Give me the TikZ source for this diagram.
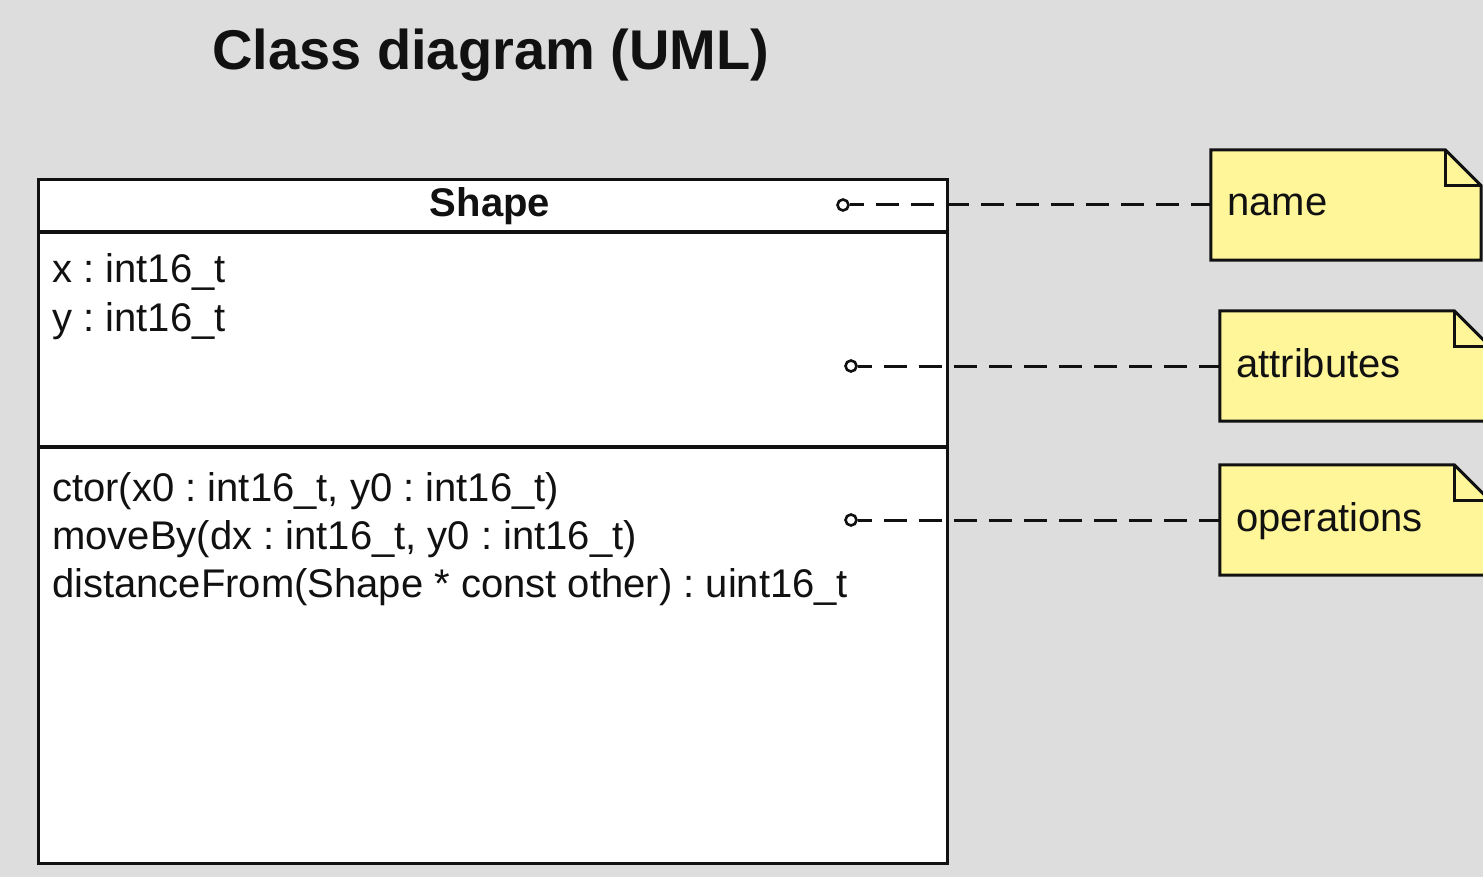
\documentclass[tikz,border=0pt]{standalone}
\usepackage{fontspec}
\setmainfont{Liberation Sans}
\usetikzlibrary{calc}
\definecolor{bg}{RGB}{221,221,221}
\definecolor{noteyellow}{RGB}{255,246,153}
\definecolor{ink}{RGB}{17,17,17}
\frenchspacing
\begin{document}
\begin{tikzpicture}[x=1pt,y=-1pt,
  txt/.style={anchor=base west, inner sep=0pt, text=ink, font=\frenchspacing\fontsize{40}{48}\selectfont},
  boldtxt/.style={inner sep=0pt, text=ink, font=\bfseries\fontsize{40}{48}\selectfont},
  classbox/.style={draw=ink, line width=3.2pt, fill=white, inner sep=0pt, anchor=north west},
  notebox/.style={minimum width=270pt, minimum height=110pt, inner sep=0pt},
  noteshape/.style={draw=ink, fill=noteyellow, line width=3pt, line join=miter},
  noteline/.style={draw=ink, line width=3pt, line join=miter},
  port/.style={circle, draw=ink, line width=2.6pt, fill=white, minimum size=11pt, inner sep=0pt},
  conn/.style={draw=ink, line width=3pt, dash pattern=on 23pt off 12pt, dash phase=9pt}]
\fill[bg] (0,0) rectangle (1483,877);
\useasboundingbox (0,0) rectangle (1483,877);
\clip (0,0) rectangle (1483,877);

% title
\node[anchor=base west, inner sep=0pt, text=ink, font=\bfseries\fontsize{56}{60}\selectfont] (title) at (212,70) {Class diagram (UML)};

% class box
\node[classbox, minimum width=909pt, minimum height=684pt] (cls) at (37,178) {};
\draw[line width=3.2pt, draw=ink] ($(cls.north west)+(0,54)$) coordinate (d1l) -- ($(cls.north east)+(0,54)$) coordinate (d1r);
\draw[line width=3.2pt, draw=ink] ($(cls.north west)+(0,269)$) coordinate (d2l) -- ($(cls.north east)+(0,269)$) coordinate (d2r);

\node[boldtxt, anchor=base] (cname) at (490,217) {Shape};
\node[txt] (a1) at (52,283) {x : int16\_t};
\node[txt] (a2) at (52,331) {y : int16\_t};
\node[txt] (o1) at (52,501) {ctor(x0 : int16\_t, y0 : int16\_t)};
\node[txt] (o2) at (52,549) {moveBy(dx : int16\_t, y0 : int16\_t)};
\node[txt] (o3) at (52,597) {distanceFrom(Shape * const other) : uint16\_t};

% notes
\node[notebox] (nname) at (1346,205) {};
\node[notebox] (nattr) at (1355,366) {};
\node[notebox] (nops) at (1355,520) {};
\foreach \n in {nname,nattr,nops} {
  \path[noteshape] (\n.north west) -- ($(\n.north east)+(-36,0)$) -- ($(\n.north east)+(0,36)$) -- (\n.south east) -- (\n.south west) -- cycle;
  \path[noteline] ($(\n.north east)+(-36,0)$) -- ($(\n.north east)+(-36,36)$) -- ($(\n.north east)+(0,36)$);
}
\node[txt] (tname) at (1227,216) {name};
\node[txt] (tattr) at (1236,377) {attributes};
\node[txt] (tops) at (1236,531) {operations};

% ports and connectors
\node[port] (p1) at (843,205) {};
\node[port] (p2) at (851,366) {};
\node[port] (p3) at (851,520) {};
\draw[conn] (p1) -- (nname);
\draw[conn] (p2) -- (nattr);
\draw[conn] (p3) -- (nops);
\end{tikzpicture}
\end{document}
